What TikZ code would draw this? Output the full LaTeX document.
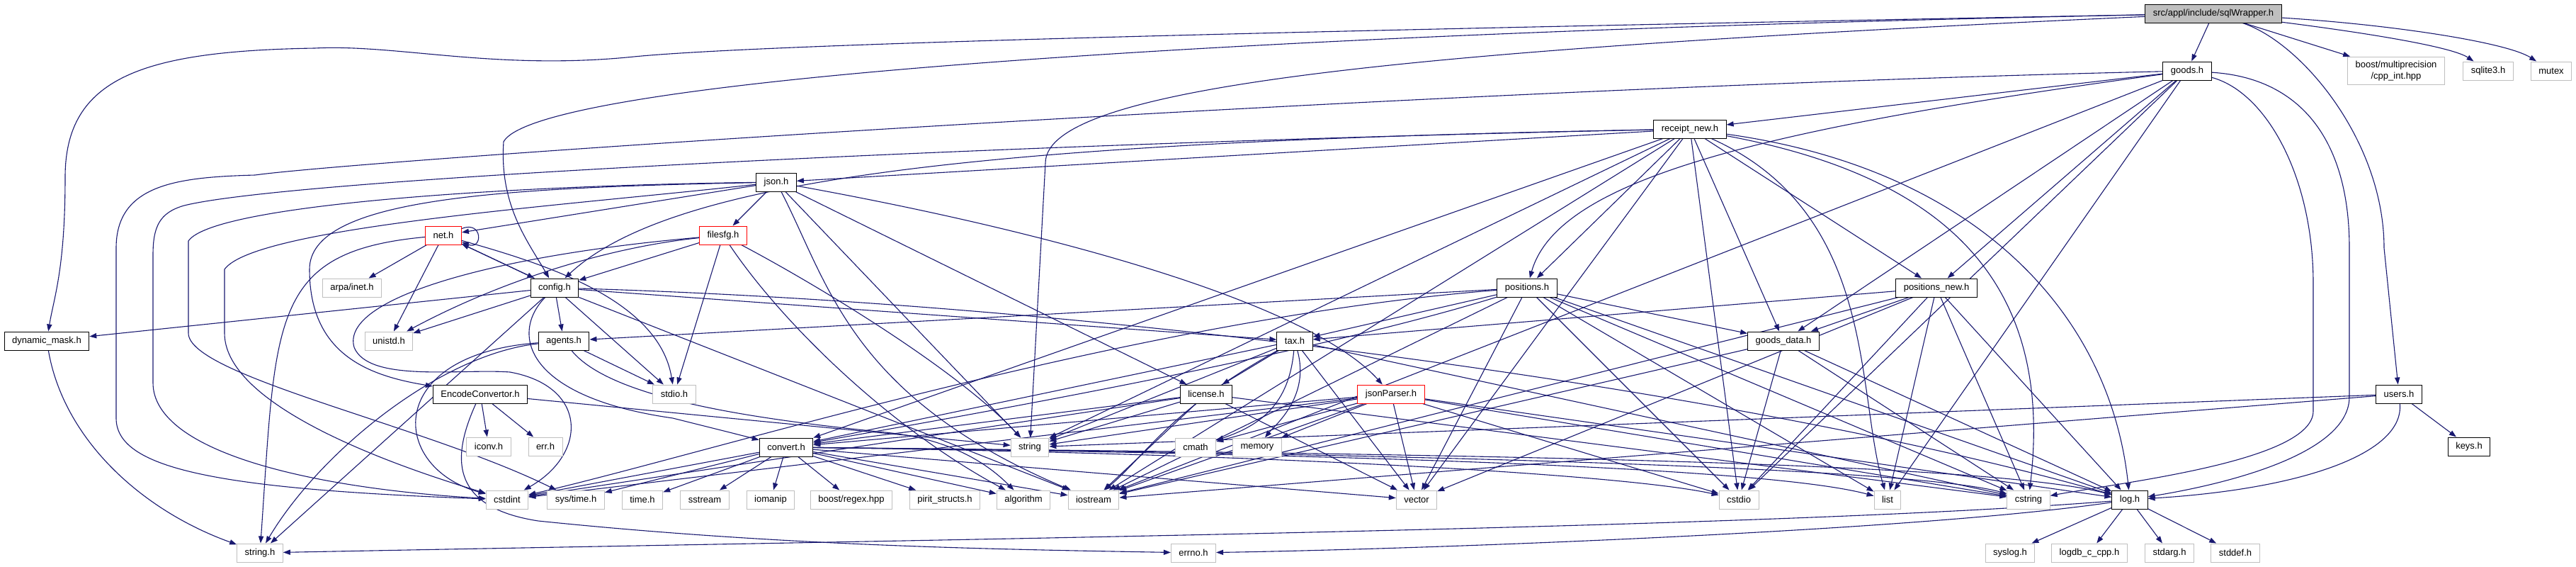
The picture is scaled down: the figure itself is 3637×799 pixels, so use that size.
\documentclass[tikz,border=0pt]{standalone}
\usepackage{fontspec}
\newfontfamily\dotfont{Liberation Sans}
\usetikzlibrary{arrows.meta,backgrounds}
\definecolor{edgeblue}{HTML}{191970}
\definecolor{boxgray}{HTML}{BFBFBF}
\tikzset{
  hdr/.style={draw=black, fill=white, line width=0.5pt, inner xsep=5.5pt, inner ysep=0pt, minimum height=13pt, align=center, font=\dotfont\fontsize{6.5pt}{7.8pt}\selectfont},
  syshdr/.style={hdr, draw=boxgray},
  cuthdr/.style={hdr, draw=red},
  roothdr/.style={hdr, fill=boxgray},
  dep/.style={-{Triangle[length=5pt,width=3.6pt]}, draw=edgeblue, line width=0.55pt}
}

\begin{document}
\begin{tikzpicture}[x=0.5pt, y=-0.5pt]
\useasboundingbox (0,0) rectangle (3637,799);
% rows of headers
\node[roothdr] (sqlw) at (3125,19) {src/appl/include/sqlWrapper.h};
\node[hdr] (goods) at (3088,100) {goods.h};
\node[syshdr, inner ysep=3pt] (bmp) at (3383,100) {boost/multiprecision\\/cpp\_int.hpp};
\node[syshdr] (sqlite) at (3513,100) {sqlite3.h};
\node[syshdr] (mutex) at (3602,100) {mutex};
\node[hdr] (receipt) at (2386,182) {receipt\_new.h};
\node[hdr] (json) at (1096,257) {json.h};
\node[cuthdr] (net) at (626,332) {net.h};
\node[cuthdr] (filesfg) at (1021,332) {filesfg.h};
\node[syshdr] (arpa) at (497,406) {arpa/inet.h};
\node[hdr] (config) at (783,406) {config.h};
\node[hdr] (positions) at (2156,406) {positions.h};
\node[hdr] (posnew) at (2734,406) {positions\_new.h};
\node[hdr] (dynmask) at (66,481) {dynamic\_mask.h};
\node[syshdr] (unistd) at (549,481) {unistd.h};
\node[hdr] (agents) at (796,481) {agents.h};
\node[hdr] (tax) at (1828,481) {tax.h};
\node[hdr] (gdata) at (2518,481) {goods\_data.h};
\node[hdr] (encconv) at (678,556) {EncodeConvertor.h};
\node[syshdr] (stdio) at (952,556) {stdio.h};
\node[hdr] (license) at (1703,556) {license.h};
\node[cuthdr] (jsonparser) at (1964,556) {jsonParser.h};
\node[hdr] (users) at (3387,556) {users.h};
\node[syshdr] (iconv) at (690,630) {iconv.h};
\node[syshdr] (err) at (770,630) {err.h};
\node[hdr] (convert) at (1110,631) {convert.h};
\node[syshdr] (string) at (1454,631) {string};
\node[syshdr] (cmath) at (1688,631) {cmath};
\node[syshdr] (memory) at (1775,631) {memory};
\node[hdr] (keys) at (3486,630) {keys.h};
\node[syshdr] (cstdint) at (716,705) {cstdint};
\node[syshdr] (systime) at (813,705) {sys/time.h};
\node[syshdr] (time) at (907,705) {time.h};
\node[syshdr] (sstream) at (995,705) {sstream};
\node[syshdr] (iomanip) at (1088,705) {iomanip};
\node[syshdr] (boostregex) at (1202,705) {boost/regex.hpp};
\node[syshdr] (pirit) at (1334,705) {pirit\_structs.h};
\node[syshdr] (algorithm) at (1445,705) {algorithm};
\node[syshdr] (iostream) at (1544,705) {iostream};
\node[syshdr] (vector) at (2000,705) {vector};
\node[syshdr] (cstdio) at (2455,705) {cstdio};
\node[syshdr] (list) at (2665,705) {list};
\node[syshdr] (cstring) at (2864,705) {cstring};
\node[hdr] (log) at (3007,705) {log.h};
\node[syshdr] (stringh) at (367,780) {string.h};
\node[syshdr] (errno) at (1685,780) {errno.h};
\node[syshdr] (syslog) at (2838,780) {syslog.h};
\node[syshdr] (logdb) at (2950,780) {logdb\_c\_cpp.h};
\node[syshdr] (stdarg) at (3063,780) {stdarg.h};
\node[syshdr] (stddef) at (3156,780) {stddef.h};

\begin{scope}[on background layer]
% sqlWrapper.h
\draw[dep] (sqlw) -- (goods);
\draw[dep] (sqlw) -- (bmp);
\draw[dep] (sqlw) .. controls (3330,45) and (3460,65) .. (sqlite);
\draw[dep] (sqlw) .. controls (3380,35) and (3540,60) .. (mutex);
\draw[dep] (sqlw) .. controls (3250,60) and (3366,200) .. (3366,350) -- (users);
\draw[dep] (sqlw) .. controls (2000,40) and (1100,60) .. (895,80) .. controls (700,100) and (560,62) .. (444,68) .. controls (200,72) and (92,110) .. (92,250) .. controls (92,380) and (76,420) .. (dynmask);
\draw[dep] (sqlw) .. controls (1800,45) and (760,110) .. (711,200) .. controls (705,290) and (745,340) .. (config);
\draw[dep] (sqlw) .. controls (2000,70) and (1476,120) .. (1476,230) -- (string);
% goods.h
\draw[dep] (goods) -- (receipt);
\draw[dep] (goods) .. controls (2500,180) and (2200,250) .. (positions);
\draw[dep] (goods) -- (posnew);
\draw[dep] (goods) -- (gdata);
\draw[dep] (goods) .. controls (3250,110) and (3317,200) .. (3317,350) -- (3317,560) .. controls (3317,650) and (3100,690) .. (log);
\draw[dep] (goods) .. controls (3200,130) and (3266,250) .. (3266,400) -- (3266,580) .. controls (3266,650) and (3000,680) .. (cstring);
\draw[dep] (goods) .. controls (2000,125) and (520,225) .. (360,247) .. controls (250,250) and (164,260) .. (164,350) -- (164,590) .. controls (164,660) and (300,690) .. (cstdint);
\draw[dep] (goods) -- (iostream);
\draw[dep] (goods) -- (cstdio);
\draw[dep] (goods) -- (list);
% receipt_new.h
\draw[dep] (receipt) -- (json);
\draw[dep] (receipt) .. controls (1400,200) and (950,250) .. (config);
\draw[dep] (receipt) -- (positions);
\draw[dep] (receipt) -- (posnew);
\draw[dep] (receipt) -- (gdata);
\draw[dep] (receipt) -- (convert);
\draw[dep] (receipt) .. controls (1500,200) and (420,250) .. (260,290) .. controls (225,300) and (216,320) .. (216,360) -- (216,540) .. controls (216,640) and (450,690) .. (cstdint);
\draw[dep] (receipt) -- (string);
\draw[dep] (receipt) -- (iostream);
\draw[dep] (receipt) -- (vector);
\draw[dep] (receipt) -- (cstdio);
\draw[dep] (receipt) .. controls (2650,300) and (2620,550) .. (list);
\draw[dep] (receipt) .. controls (2750,250) and (2900,400) .. (cstring);
\draw[dep] (receipt) .. controls (2800,240) and (2980,450) .. (log);
% json.h
\draw[dep] (json) -- (net);
\draw[dep] (json) -- (filesfg);
\draw[dep] (json) -- (license);
\draw[dep] (json) .. controls (1500,330) and (1850,430) .. (jsonparser);
\draw[dep] (json) .. controls (800,290) and (360,320) .. (317,380) -- (317,470) .. controls (317,560) and (500,640) .. (cstdint);
\draw[dep] (json) .. controls (700,262) and (300,290) .. (266,340) -- (266,470) .. controls (266,530) and (600,600) .. (systime);
\draw[dep] (json) .. controls (700,265) and (437,280) .. (437,380) .. controls (437,500) and (520,530) .. (encconv);
\draw[dep] (json) -- (string);
\draw[dep] (json) .. controls (1170,400) and (1200,560) .. (iostream);
% net.h
\draw[dep] (net) -- (config);
\draw[dep] (net) -- (arpa);
\draw[dep] (net) -- (unistd);
\draw[dep] (net) .. controls (760,370) and (930,420) .. (stdio);
\draw[dep] (net.20) .. controls +(30,-12) and +(30,12) .. (net.-20);
\draw[dep] (net) .. controls (380,355) and (390,450) .. (stringh);
% filesfg.h
\draw[dep] (filesfg) -- (config);
\draw[dep] (filesfg) .. controls (850,350) and (700,400) .. (unistd);
\draw[dep] (filesfg) -- (stdio);
\draw[dep] (filesfg) .. controls (1100,450) and (1250,600) .. (algorithm);
\draw[dep] (filesfg) .. controls (1150,400) and (1350,520) .. (string);
\draw[dep] (filesfg) .. controls (700,360) and (480,420) .. (500,490) .. controls (520,540) and (650,520) .. (720,525) .. controls (830,545) and (830,640) .. (cstdint);
% config.h
\draw[dep] (config) -- (net);
\draw[dep] (config) -- (dynmask);
\draw[dep] (config) -- (unistd);
\draw[dep] (config) -- (agents);
\draw[dep] (config) -- (stdio);
\draw[dep] (config) -- (stringh);
\draw[dep] (config) .. controls (720,470) and (740,560) .. (950,590) .. controls (1010,605) and (1050,615) .. (convert);
\draw[dep] (config) -- (tax);
\draw[dep] (config) .. controls (1600,430) and (2500,560) .. (log);
\draw[dep] (config) -- (iostream);
% dynamic_mask.h
\draw[dep] (dynmask) .. controls (90,620) and (200,720) .. (stringh);
% agents.h
\draw[dep] (agents) -- (stdio);
\draw[dep] (agents) .. controls (620,500) and (450,640) .. (stringh);
\draw[dep] (agents) .. controls (540,500) and (550,660) .. (cstdint);
\draw[dep] (agents) .. controls (860,560) and (1050,590) .. (1250,610) .. controls (1350,620) and (1400,660) .. (algorithm);
% EncodeConvertor.h
\draw[dep] (encconv) -- (iconv);
\draw[dep] (encconv) -- (err);
\draw[dep] (encconv) -- (string);
\draw[dep] (encconv) .. controls (640,640) and (630,715) .. (760,735) .. controls (1100,770) and (1400,775) .. (errno);
% convert.h
\draw[dep] (convert) -- (cstdint);
\draw[dep] (convert) -- (systime);
\draw[dep] (convert) -- (time);
\draw[dep] (convert) -- (sstream);
\draw[dep] (convert) -- (iomanip);
\draw[dep] (convert) -- (boostregex);
\draw[dep] (convert) -- (pirit);
\draw[dep] (convert) -- (algorithm);
\draw[dep] (convert) -- (iostream);
\draw[dep] (convert) -- (vector);
\draw[dep] (convert) .. controls (1800,640) and (2300,670) .. (cstdio);
\draw[dep] (convert) .. controls (1900,640) and (2500,660) .. (list);
\draw[dep] (convert) .. controls (2000,640) and (2700,660) .. (cstring);
\draw[dep] (convert) .. controls (2000,640) and (2800,650) .. (log);
% tax.h
\draw[dep] (tax) -- (license);
\draw[dep] (tax) .. controls (1820,570) and (1780,600) .. (cmath);
\draw[dep] (tax) .. controls (1850,560) and (1800,600) .. (memory);
\draw[dep] (tax) .. controls (1650,580) and (1620,640) .. (iostream);
\draw[dep] (tax) -- (string);
\draw[dep] (tax) -- (convert);
\draw[dep] (tax) -- (cstring);
\draw[dep] (tax) -- (vector);
% license.h
\draw[dep] (license) -- (string);
\draw[dep] (license) -- (convert);
\draw[dep] (license) -- (iostream);
\draw[dep] (license) -- (vector);
\draw[dep] (license) -- (cstring);
\draw[dep] (license) -- (cstdint);
% jsonParser.h
\draw[dep] (jsonparser) -- (convert);
\draw[dep] (jsonparser) -- (string);
\draw[dep] (jsonparser) -- (cmath);
\draw[dep] (jsonparser) -- (memory);
\draw[dep] (jsonparser) -- (iostream);
\draw[dep] (jsonparser) -- (vector);
\draw[dep] (jsonparser) -- (cstdio);
\draw[dep] (jsonparser) -- (cstring);
\draw[dep] (jsonparser) -- (log);
\draw[dep] (jsonparser) -- (cstdint);
% positions.h
\draw[dep] (positions) -- (agents);
\draw[dep] (positions) -- (tax);
\draw[dep] (positions) -- (gdata);
\draw[dep] (positions) .. controls (1850,500) and (1400,580) .. (convert);
\draw[dep] (positions) -- (iostream);
\draw[dep] (positions) -- (vector);
\draw[dep] (positions) .. controls (1600,450) and (1000,640) .. (cstdint);
\draw[dep] (positions) -- (cstdio);
\draw[dep] (positions) -- (list);
\draw[dep] (positions) -- (cstring);
\draw[dep] (positions) -- (log);
% positions_new.h
\draw[dep] (posnew) -- (tax);
\draw[dep] (posnew) -- (gdata);
\draw[dep] (posnew) -- (iostream);
\draw[dep] (posnew) -- (vector);
\draw[dep] (posnew) -- (cstdio);
\draw[dep] (posnew) -- (list);
\draw[dep] (posnew) -- (cstring);
\draw[dep] (posnew) -- (log);
% goods_data.h
\draw[dep] (gdata) -- (iostream);
\draw[dep] (gdata) -- (cstdio);
\draw[dep] (gdata) -- (cstring);
\draw[dep] (gdata) -- (log);
% users.h
\draw[dep] (users) -- (keys);
\draw[dep] (users) -- (string);
\draw[dep] (users) -- (iostream);
\draw[dep] (users) .. controls (3395,640) and (3250,690) .. (log);
% log.h
\draw[dep] (log) -- (syslog);
\draw[dep] (log) -- (logdb);
\draw[dep] (log) -- (stdarg);
\draw[dep] (log) -- (stddef);
\draw[dep] (log) .. controls (2700,750) and (2000,775) .. (errno);
\draw[dep] (log) .. controls (2500,745) and (1400,760) .. (stringh);
\end{scope}
\end{tikzpicture}
\end{document}
